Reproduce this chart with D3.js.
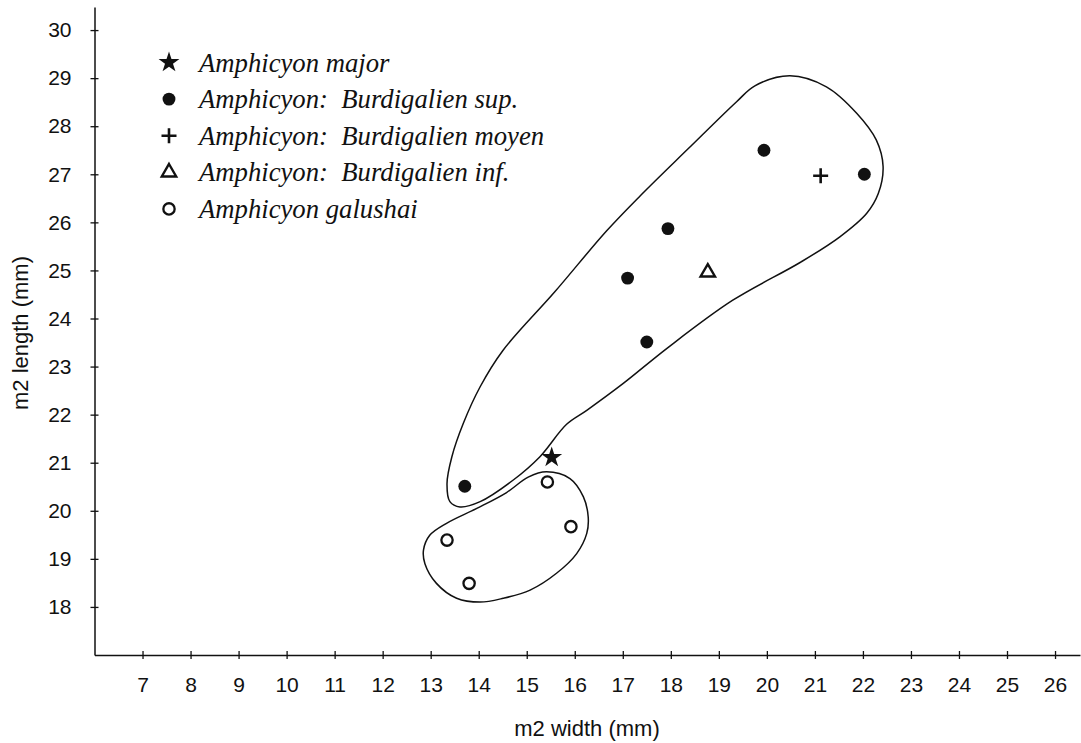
<!DOCTYPE html>
<html>
<head>
<meta charset="utf-8">
<script src="https://cdn.jsdelivr.net/npm/d3@7"></script>
<style>
  body { margin: 0; background: #fff; }
  svg { display: block; }
</style>
</head>
<body>
<div id="chart"></div>
<script>
// Data (m2 width, m2 length in mm)
const seriesNames = [
    "Amphicyon major",
    "Amphicyon:  Burdigalien sup.",
    "Amphicyon:  Burdigalien moyen",
    "Amphicyon:  Burdigalien inf.",
    "Amphicyon galushai"
];
const majorPts = [[15.52, 21.11]];
const supPts = [[13.71, 20.51], [17.10, 24.84], [17.50, 23.51], [17.94, 25.87], [19.94, 27.50], [22.03, 27.00]];
const moyenPts = [[21.12, 26.97]];
const infPts = [[18.77, 24.96]];
const galushaiPts = [[15.43, 20.60], [15.92, 19.67], [13.34, 19.39], [13.80, 18.49]];

// Hand-drawn outlines around the groups
const hullBurdigalien = [
    [20.48, 29.05], [21.24, 28.82], [21.87, 28.27], [22.28, 27.71], [22.42, 27.16],
    [22.32, 26.60], [22.08, 26.19], [21.52, 25.70], [20.70, 25.17],
    [19.29, 24.38], [17.92, 23.38], [17.01, 22.65], [16.25, 22.09], [15.83, 21.80],
    [15.27, 21.12], [14.72, 20.64], [14.03, 20.19], [13.61, 20.08], [13.40, 20.19],
    [13.34, 20.57], [13.44, 21.12], [13.68, 21.82], [14.03, 22.58], [14.50, 23.33],
    [15.58, 24.55], [16.66, 25.82], [17.36, 26.55], [18.36, 27.53], [19.37, 28.51],
    [19.75, 28.84]
];
const hullGalushai = [
    [15.41, 20.81], [15.90, 20.67], [16.18, 20.29], [16.28, 19.87], [16.25, 19.53],
    [16.04, 19.11], [15.62, 18.70], [15.07, 18.35], [14.51, 18.18], [14.03, 18.10],
    [13.54, 18.18], [13.12, 18.49], [12.88, 18.90], [12.85, 19.18], [12.98, 19.49],
    [13.33, 19.74], [13.96, 20.05], [14.58, 20.38], [15.03, 20.70]
];

const xTicks = [7, 8, 9, 10, 11, 12, 13, 14, 15, 16, 17, 18, 19, 20, 21, 22, 23, 24, 25, 26];
const yTicks = [18, 19, 20, 21, 22, 23, 24, 25, 26, 27, 28, 29, 30];

const W = 1081, H = 743;

const svg = d3.select("#chart")
    .append("svg")
    .attr("width", W)
    .attr("height", H);

const x = d3.scaleLinear().domain([6, 26.52]).range([94.5, 1080]);
const y = d3.scaleLinear().domain([17, 30.48]).range([655, 7]);

// X axis
const xAxis = svg.append("g")
    .attr("transform", `translate(0,${y(17)})`)
    .call(d3.axisBottom(x).tickValues(xTicks).tickSize(4).tickPadding(18).tickSizeOuter(0));
// Y axis
const yAxis = svg.append("g")
    .attr("transform", `translate(${x(6)},0)`)
    .call(d3.axisLeft(y).tickValues(yTicks).tickSize(4).tickPadding(19).tickSizeOuter(0));

// ticks cross the axis line on both sides
xAxis.selectAll(".tick line").attr("y1", -4).attr("y2", 4);
yAxis.selectAll(".tick line").attr("x1", -4).attr("x2", 4);

[xAxis, yAxis].forEach(a => {
    a.select(".domain").attr("stroke", "#111").attr("stroke-width", 1.5);
    a.selectAll(".tick line").attr("stroke", "#111").attr("stroke-width", 1.3);
    a.selectAll(".tick text")
        .attr("fill", "#111")
        .style("font-family", "'Liberation Sans', Arial, sans-serif")
        .style("font-size", "21px");
});

// Axis titles
svg.append("text")
    .attr("x", 587)
    .attr("y", 736)
    .attr("text-anchor", "middle")
    .style("font-family", "'Liberation Sans', Arial, sans-serif")
    .style("font-size", "22px")
    .attr("fill", "#111")
    .text("m2 width (mm)");

svg.append("text")
    .attr("transform", "translate(28,333) rotate(-90)")
    .attr("text-anchor", "middle")
    .style("font-family", "'Liberation Sans', Arial, sans-serif")
    .style("font-size", "22px")
    .attr("fill", "#111")
    .text("m2 length (mm)");

// Outlines
const outline = d3.line()
    .x(d => x(d[0]))
    .y(d => y(d[1]))
    .curve(d3.curveCatmullRomClosed.alpha(0.5));

svg.selectAll(".hull")
    .data([hullBurdigalien, hullGalushai])
    .join("path")
    .attr("class", "hull")
    .attr("d", outline)
    .attr("fill", "none")
    .attr("stroke", "#111")
    .attr("stroke-width", 1.5);

// Marker shapes
const markers = [
    { d: d3.symbol(d3.symbolStar, 135)(), fill: "#111", stroke: "none", sw: 0 },
    { d: d3.symbol(d3.symbolCircle, 130)(), fill: "#111", stroke: "none", sw: 0 },
    { d: "M-7.5,0H7.5M0,-7.5V7.5", fill: "none", stroke: "#111", sw: 2.6 },
    { d: d3.symbol(d3.symbolTriangle, 90)(), fill: "none", stroke: "#111", sw: 2.4 },
    { d: d3.symbol(d3.symbolCircle, 100)(), fill: "none", stroke: "#111", sw: 2.3 }
];

const groups = [majorPts, supPts, moyenPts, infPts, galushaiPts];

groups.forEach((pts, i) => {
    const m = markers[i];
    svg.append("g")
        .selectAll("path")
        .data(pts)
        .join("path")
        .attr("transform", d => `translate(${x(d[0])},${y(d[1])})`)
        .attr("d", m.d)
        .attr("fill", m.fill)
        .attr("stroke", m.stroke)
        .attr("stroke-width", m.sw);
});

// Legend
const legend = svg.append("g").attr("transform", "translate(169,62.5)");
const rowH = 36.6;

seriesNames.forEach((name, i) => {
    const m = markers[i];
    const row = legend.append("g").attr("transform", `translate(0,${i * rowH})`);
    row.append("path")
        .attr("d", m.d)
        .attr("fill", m.fill)
        .attr("stroke", m.stroke)
        .attr("stroke-width", m.sw);
    row.append("text")
        .attr("x", 30)
        .attr("y", 9)
        .style("font-family", "'Liberation Serif', 'Times New Roman', serif")
        .style("font-style", "italic")
        .style("font-size", "26.7px")
        .style("white-space", "pre")
        .attr("fill", "#111")
        .text(name);
});
</script>
</body>
</html>
